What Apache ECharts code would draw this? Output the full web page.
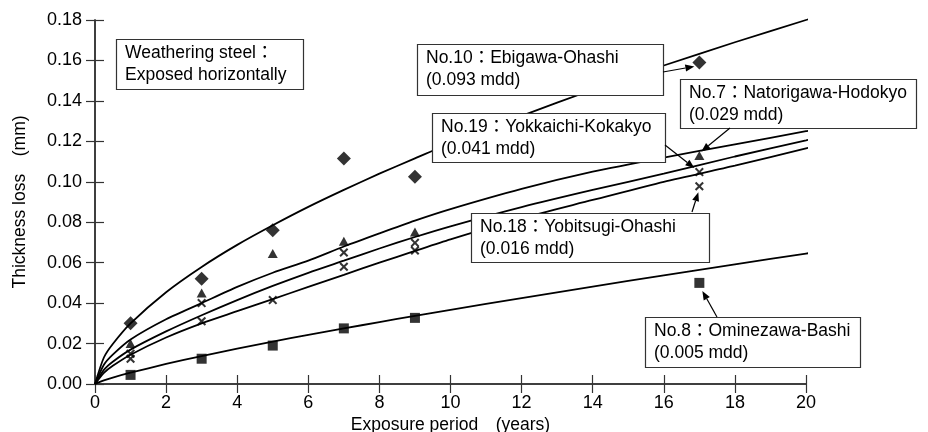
<!DOCTYPE html>
<html><head><meta charset="utf-8">
<script src="https://cdn.jsdelivr.net/npm/echarts@6/dist/echarts.min.js"></script>
<style>html,body{margin:0;padding:0;background:#fff}#c{width:928px;height:432px}</style>
</head><body><div id="c"></div>
<script>
// ---- data ----
const years = [1, 3, 5, 7, 9, 17];
const no10Pts = [0.030, 0.052, 0.076, 0.1115, 0.1025, 0.159];
const no7Pts  = [0.020, 0.045, 0.0645, 0.0706, 0.0752, 0.113];
const no19Years = [1, 3, 7, 9, 17];
const no19Pts = [0.015, 0.040, 0.065, 0.0698, 0.1048];
const no18Pts = [0.0125, 0.031, 0.0415, 0.058, 0.066, 0.0978];
const no8Pts  = [0.0045, 0.0125, 0.019, 0.0275, 0.0327, 0.050];

const curveX    = [0, 0.25, 0.5, 1, 2, 3, 4, 5, 6, 7, 8, 9, 10, 12, 14, 16, 18, 20, 20.2];
const no10Curve = [0, 0.0131, 0.0198, 0.030, 0.0454, 0.0579, 0.0688, 0.0785, 0.0876, 0.096, 0.104, 0.1116, 0.119, 0.1326, 0.1455, 0.1575, 0.169, 0.180, 0.181];
const no7Curve  = [0, 0.0095, 0.0145, 0.022, 0.032, 0.040, 0.048, 0.055, 0.061, 0.068, 0.0745, 0.0808, 0.0865, 0.0965, 0.105, 0.112, 0.1185, 0.125, 0.1256];
const no19Curve = [0, 0.007, 0.011, 0.017, 0.026, 0.034, 0.0415, 0.0485, 0.055, 0.061, 0.067, 0.0727, 0.078, 0.0875, 0.096, 0.104, 0.1125, 0.1205, 0.1213];
const no18Curve = [0, 0.0055, 0.009, 0.0145, 0.023, 0.030, 0.036, 0.042, 0.048, 0.054, 0.060, 0.0658, 0.0715, 0.082, 0.091, 0.100, 0.108, 0.1165, 0.1173];
const no8Curve  = [0, 0.0018, 0.0032, 0.0056, 0.0099, 0.0138, 0.0175, 0.021, 0.0243, 0.0275, 0.0306, 0.0337, 0.0367, 0.0425, 0.0482, 0.0537, 0.0592, 0.0645, 0.065];

const xTicks = [0, 2, 4, 6, 8, 10, 12, 14, 16, 18, 20];
const yTicks = [0, 0.02, 0.04, 0.06, 0.08, 0.10, 0.12, 0.14, 0.16, 0.18];

const xName = 'Exposure period\u3000(years)';
const yName = 'Thickness loss\u3000(mm)';
const notes = [
  ['Weathering steel\uFF1A', 'Exposed horizontally'],
  ['No.10\uFF1AEbigawa-Ohashi', '(0.093 mdd)'],
  ['No.7\uFF1ANatorigawa-Hodokyo', '(0.029 mdd)'],
  ['No.19\uFF1AYokkaichi-Kokakyo', '(0.041 mdd)'],
  ['No.18\uFF1AYobitsugi-Ohashi', '(0.016 mdd)'],
  ['No.8\uFF1AOminezawa-Bashi', '(0.005 mdd)']
];

// ---- chart ----
const FONT = '"Liberation Sans", Arial, "Noto Sans CJK JP", sans-serif';
const AX = '#333';
const chart = echarts.init(document.getElementById('c'));
const pair = (xs, ys) => xs.map((x, i) => [x, ys[i]]);
const XSYM = 'path://M1.6,0 L5,3.4 L8.4,0 L10,1.6 L6.6,5 L10,8.4 L8.4,10 L5,6.6 L1.6,10 L0,8.4 L3.4,5 L0,1.6 Z';

function curve(ys) {
  return { type: 'line', data: pair(curveX, ys), smooth: 0.25, showSymbol: false, clip: false,
    lineStyle: { color: '#000', width: 1.8 }, z: 2, silent: true };
}
function pts(xs, ys, sym, size) {
  return { type: 'scatter', data: pair(xs, ys), symbol: sym, symbolSize: size,
    itemStyle: { color: '#000' }, z: 5, silent: true };
}
const axisCommon = {
  type: 'value', min: 0,
  axisLine: { show: true, lineStyle: { color: AX, width: 1.5 } },
  axisTick: { show: true, inside: true, length: 9, lineStyle: { color: AX, width: 1.2 } },
  splitLine: { show: false }
};
chart.setOption({
  animation: false,
  backgroundColor: '#fff',
  grid: { left: 95, right: 122, top: 20, bottom: 48, containLabel: false, outerBoundsMode: 'none' },
  xAxis: [
    Object.assign({}, axisCommon, { max: 20, interval: 2, position: 'bottom',
      axisLabel: { color: '#000', fontSize: 18, fontFamily: FONT, margin: 10 },
      name: xName, nameLocation: 'middle', nameGap: 32,
      nameTextStyle: { color: '#000', fontSize: 17.5, fontFamily: FONT } }),
    Object.assign({}, axisCommon, { max: 20, interval: 2, position: 'top', axisLabel: { show: false } })
  ],
  yAxis: [
    Object.assign({}, axisCommon, { max: 0.18, interval: 0.02, position: 'left',
      axisLabel: { color: '#000', fontSize: 18, fontFamily: FONT, margin: 13, padding: [5, 0, 0, 0],
        formatter: v => v.toFixed(2) },
      name: yName, nameLocation: 'middle', nameGap: 66,
      nameTextStyle: { color: '#000', fontSize: 17.5, fontFamily: FONT } }),
    Object.assign({}, axisCommon, { max: 0.18, interval: 0.02, position: 'right', axisLabel: { show: false } })
  ],
  series: [
    curve(no10Curve), curve(no7Curve), curve(no19Curve), curve(no18Curve), curve(no8Curve),
    pts(years, no10Pts, 'diamond', 14),
    pts(years, no7Pts, 'triangle', [10, 9]),
    pts(no19Years, no19Pts, XSYM, 9),
    pts(years, no18Pts, XSYM, 9),
    pts(years, no8Pts, 'rect', 10)
  ]
});

// ---- annotations (boxes in pixels, arrow tips at data points) ----
const toPx = (x, y) => chart.convertToPixel({ gridIndex: 0 }, [x, y]);
const boxes = [
  { r: [116, 39, 187, 50], t: notes[0] },
  { r: [417, 44, 246, 51], t: notes[1] },
  { r: [680, 79, 236, 49], t: notes[2] },
  { r: [432, 113, 233, 49], t: notes[3] },
  { r: [471, 213, 238, 49], t: notes[4] },
  { r: [645, 317, 215, 50], t: notes[5] }
];
const arrows = [
  { s: [663, 72], p: toPx(17, no10Pts[5]), off: [-5, 4] },
  { s: [730, 128], p: toPx(17, no7Pts[5]), off: [2, -4] },
  { s: [665, 145], p: toPx(17, no19Pts[4]), off: [-5, -4] },
  { s: [692, 212], p: toPx(17, no18Pts[5]), off: [-1, 6] },
  { s: [717, 317], p: toPx(17, no8Pts[5]), off: [3, 8] }
];
const g = [];
boxes.forEach(b => {
  g.push({ type: 'rect', shape: { x: b.r[0] + 0.5, y: b.r[1] + 0.5, width: b.r[2], height: b.r[3] },
    style: { fill: '#fff', stroke: '#333', lineWidth: 1.2 }, z: 100 });
  g.push({ type: 'text', x: b.r[0] + 9, y: b.r[1] + 3, z: 101,
    style: { text: b.t.join('\n'), fill: '#000', font: '17.5px ' + FONT, lineHeight: 22 } });
});
arrows.forEach(a => {
  const ex = a.p[0] + a.off[0], ey = a.p[1] + a.off[1];
  const dx = ex - a.s[0], dy = ey - a.s[1], L = Math.hypot(dx, dy);
  const ux = dx / L, uy = dy / L, hl = 9, hw = 3.5;
  const bx = ex - ux * hl, by = ey - uy * hl;
  g.push({ type: 'line', shape: { x1: a.s[0], y1: a.s[1], x2: bx, y2: by },
    style: { stroke: '#000', lineWidth: 1.2 }, z: 102 });
  g.push({ type: 'polygon', shape: { points: [[ex, ey], [bx - uy * hw, by + ux * hw], [bx + uy * hw, by - ux * hw]] },
    style: { fill: '#000' }, z: 102 });
});
chart.setOption({ graphic: g });
</script>
</body></html>
